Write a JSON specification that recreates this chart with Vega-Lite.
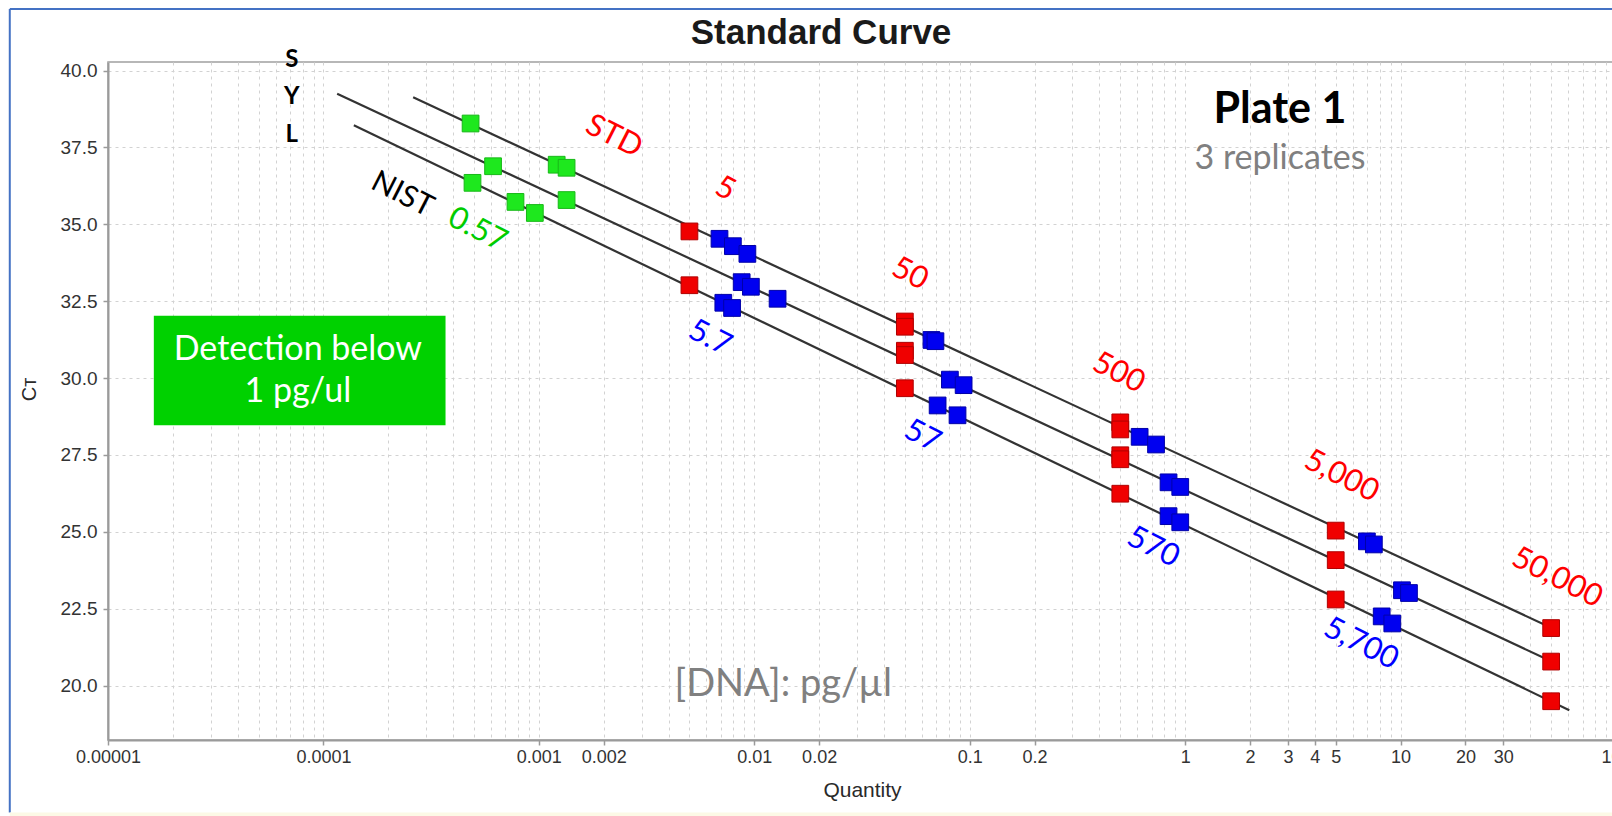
{
  "$schema": "https://vega.github.io/schema/vega-lite/v6.json",
  "width": 1508,
  "height": 678,
  "autosize": "none",
  "padding": {"left": 108, "top": 62, "right": -4, "bottom": 76},
  "background": "white",
  "title": {"text": "Standard Curve", "font": "Liberation Sans", "fontSize": 35, "fontWeight": "bold", "color": "#1a1a1a", "anchor": "middle", "frame": "group", "dx": -41, "offset": -71, "baseline": "alphabetic"},
  "config": {
    "view": {"stroke": "#a0a0a0", "strokeWidth": 1.5},
    "axis": {"labelFont": "Liberation Sans", "labelColor": "#333333", "titleFont": "Liberation Sans", "titleFontWeight": "normal", "titleColor": "#2a2a2a", "domainColor": "#9a9a9a", "domainWidth": 2, "tickColor": "#9a9a9a", "tickWidth": 1.5, "gridColor": "#d2d2d2", "gridDash": [3, 4], "gridWidth": 1}
  },
  "datasets": {
    "lines": [
      {"line": "S", "q": 0.0002609, "ct": 39.13}, {"line": "S", "q": 50, "ct": 21.88},
      {"line": "Y", "q": 0.0001158, "ct": 39.25}, {"line": "Y", "q": 50, "ct": 20.79},
      {"line": "L", "q": 0.0001384, "ct": 38.22}, {"line": "L", "q": 60.7, "ct": 19.2}
    ],
    "points": [
      {"grp": "std", "q": 0.005, "ct": 34.77}, {"grp": "std", "q": 0.005, "ct": 33.02},
      {"grp": "std", "q": 0.05, "ct": 31.84}, {"grp": "std", "q": 0.05, "ct": 31.67}, {"grp": "std", "q": 0.05, "ct": 30.89}, {"grp": "std", "q": 0.05, "ct": 30.75}, {"grp": "std", "q": 0.05, "ct": 29.67},
      {"grp": "std", "q": 0.5, "ct": 28.56}, {"grp": "std", "q": 0.5, "ct": 28.33}, {"grp": "std", "q": 0.5, "ct": 27.49}, {"grp": "std", "q": 0.5, "ct": 27.36}, {"grp": "std", "q": 0.5, "ct": 26.24},
      {"grp": "std", "q": 5, "ct": 25.04}, {"grp": "std", "q": 5, "ct": 24.08}, {"grp": "std", "q": 5, "ct": 22.8},
      {"grp": "std", "q": 50, "ct": 21.87}, {"grp": "std", "q": 50, "ct": 20.78}, {"grp": "std", "q": 50, "ct": 19.49},
      {"grp": "nist", "q": 0.006895, "ct": 34.53}, {"grp": "nist", "q": 0.007955, "ct": 34.29}, {"grp": "nist", "q": 0.00929, "ct": 34.04}, {"grp": "nist", "q": 0.008739, "ct": 33.12}, {"grp": "nist", "q": 0.009643, "ct": 32.97}, {"grp": "nist", "q": 0.01283, "ct": 32.58}, {"grp": "nist", "q": 0.007182, "ct": 32.45}, {"grp": "nist", "q": 0.007887, "ct": 32.28},
      {"grp": "nist", "q": 0.06643, "ct": 31.24}, {"grp": "nist", "q": 0.06934, "ct": 31.2}, {"grp": "nist", "q": 0.08091, "ct": 29.95}, {"grp": "nist", "q": 0.0937, "ct": 29.77}, {"grp": "nist", "q": 0.07096, "ct": 29.11}, {"grp": "nist", "q": 0.08779, "ct": 28.79},
      {"grp": "nist", "q": 0.6149, "ct": 28.09}, {"grp": "nist", "q": 0.7326, "ct": 27.84}, {"grp": "nist", "q": 0.8374, "ct": 26.61}, {"grp": "nist", "q": 0.9491, "ct": 26.46}, {"grp": "nist", "q": 0.8374, "ct": 25.51}, {"grp": "nist", "q": 0.9491, "ct": 25.31},
      {"grp": "nist", "q": 6.976, "ct": 24.69}, {"grp": "nist", "q": 7.516, "ct": 24.59}, {"grp": "nist", "q": 10.15, "ct": 23.1}, {"grp": "nist", "q": 10.94, "ct": 23.01}, {"grp": "nist", "q": 8.172, "ct": 22.25}, {"grp": "nist", "q": 9.153, "ct": 22.02},
      {"grp": "low", "q": 0.000482, "ct": 38.28}, {"grp": "low", "q": 0.000613, "ct": 36.89}, {"grp": "low", "q": 0.000492, "ct": 36.35}, {"grp": "low", "q": 0.000779, "ct": 35.73}, {"grp": "low", "q": 0.000958, "ct": 35.37}, {"grp": "low", "q": 0.00121, "ct": 36.94}, {"grp": "low", "q": 0.001345, "ct": 36.84}, {"grp": "low", "q": 0.001345, "ct": 35.79}
    ],
    "labels": [
      {"text": "S", "q": 7.133e-5, "ct": 40.36, "kind": "syl"},
      {"text": "Y", "q": 7.133e-5, "ct": 39.15, "kind": "syl"},
      {"text": "L", "q": 7.133e-5, "ct": 37.92, "kind": "syl"},
      {"text": "STD", "q": 0.002229, "ct": 37.85, "kind": "std"},
      {"text": "5", "q": 0.007326, "ct": 36.15, "kind": "std"},
      {"text": "50", "q": 0.05278, "ct": 33.38, "kind": "std"},
      {"text": "500", "q": 0.4912, "ct": 30.16, "kind": "std"},
      {"text": "5,000", "q": 5.316, "ct": 26.8, "kind": "std"},
      {"text": "50,000", "q": 53.22, "ct": 23.5, "kind": "std"},
      {"text": "5.7", "q": 0.006221, "ct": 31.29, "kind": "nist"},
      {"text": "57", "q": 0.06026, "ct": 28.1, "kind": "nist"},
      {"text": "570", "q": 0.7101, "ct": 24.49, "kind": "nist"},
      {"text": "5,700", "q": 6.551, "ct": 21.35, "kind": "nist"},
      {"text": "NIST", "q": 0.0002324, "ct": 35.97, "kind": "black"},
      {"text": "0.57", "q": 0.0005181, "ct": 34.82, "kind": "low"},
      {"text": "Plate 1", "q": 2.755, "ct": 38.72, "kind": "plate"},
      {"text": "3 replicates", "q": 2.755, "ct": 37.13, "kind": "rep"},
      {"text": "[DNA]: pg/µl", "q": 0.01362, "ct": 20.03, "kind": "dna"},
      {"text": "Detection below", "q": 7.61e-5, "ct": 30.9, "kind": "box"},
      {"text": "1 pg/ul", "q": 7.61e-5, "ct": 29.55, "kind": "box"}
    ]
  },
  "encoding": {
    "x": {"field": "q", "type": "quantitative",
      "scale": {"type": "log", "domain": [0.00001, 100], "nice": false},
      "axis": {
        "title": "Quantity", "titleFontSize": 21, "titlePadding": 13,
        "labelFontSize": 18, "labelPadding": 3, "tickSize": 5, "labelOverlap": false, "labelBound": false, "labelFlush": false,
        "values": [0.00001, 0.00002, 0.00003, 0.00004, 0.00005, 0.00006, 0.00007, 0.00008, 0.00009, 0.0001, 0.0002, 0.0003, 0.0004, 0.0005, 0.0006, 0.0007, 0.0008, 0.0009, 0.001, 0.002, 0.003, 0.004, 0.005, 0.006, 0.007, 0.008, 0.009, 0.01, 0.02, 0.03, 0.04, 0.05, 0.06, 0.07, 0.08, 0.09, 0.1, 0.2, 0.3, 0.4, 0.5, 0.6, 0.7, 0.8, 0.9, 1, 2, 3, 4, 5, 6, 7, 8, 9, 10, 20, 30, 40, 50, 60, 70, 80, 90, 100],
        "labelExpr": "indexof([0.00001, 0.0001, 0.001, 0.002, 0.01, 0.02, 0.1, 0.2, 1, 2, 3, 4, 5, 10, 20, 30, 100], datum.value) >= 0 ? format(datum.value, '~f') : ''",
        "tickColor": {"condition": {"test": "indexof([0.00001, 0.0001, 0.001, 0.002, 0.01, 0.02, 0.1, 0.2, 1, 2, 3, 4, 5, 10, 20, 30, 100], datum.value) >= 0", "value": "#9a9a9a"}, "value": "transparent"}
      }},
    "y": {"field": "ct", "type": "quantitative",
      "scale": {"domain": [18.23, 40.28], "nice": false, "zero": false},
      "axis": {"title": "Cᴛ", "titleFontSize": 20, "titleAngle": -90, "titleAlign": "center", "titleBaseline": "middle", "titleX": -79, "titleY": 327,
        "values": [20, 22.5, 25, 27.5, 30, 32.5, 35, 37.5, 40], "format": ".1f", "labelFontSize": 19, "labelPadding": 6, "tickSize": 5}}
  },
  "layer": [
    {"data": {"values": [{"q": 0.0000035, "q2": 2000, "ct": 42.0}]},
     "mark": {"type": "rule", "color": "#4472c4", "strokeWidth": 2},
     "encoding": {"x2": {"field": "q2"}}},
    {"data": {"values": [{"q": 0.0000035, "ct": 42.0, "ct2": 15.87}]},
     "mark": {"type": "rule", "color": "#4472c4", "strokeWidth": 2},
     "encoding": {"y2": {"field": "ct2"}}},
    {"data": {"values": [{"q": 0.0000035, "q2": 2000, "ct": 15.87, "ct2": 15.5}]},
     "mark": {"type": "rect", "color": "#fcf9e6"},
     "encoding": {"x2": {"field": "q2"}, "y2": {"field": "ct2"}}},
    {"data": {"values": [{"q": 0.00001632, "q2": 0.0003688, "ct": 32.03, "ct2": 28.47}]},
     "mark": {"type": "rect", "color": "#00d100"},
     "encoding": {"x2": {"field": "q2"}, "y2": {"field": "ct2"}}},
    {"data": {"name": "lines"},
     "mark": {"type": "line", "color": "#333333", "strokeWidth": 2.2},
     "encoding": {"detail": {"field": "line"}}},
    {"data": {"name": "points"},
     "mark": {"type": "point", "shape": "square", "filled": true, "size": 280, "strokeWidth": 1, "opacity": 1},
     "encoding": {
       "fill": {"field": "grp", "type": "nominal", "legend": null, "scale": {"domain": ["std", "nist", "low"], "range": ["#f00000", "#0000f0", "#1ee81e"]}},
       "stroke": {"field": "grp", "type": "nominal", "legend": null, "scale": {"domain": ["std", "nist", "low"], "range": ["#b00000", "#0000a8", "#18b818"]}}
     }},
    {"data": {"name": "labels"}, "transform": [{"filter": "datum.kind == 'syl'"}],
     "mark": {"type": "text", "font": "Lato", "fontWeight": "bold", "fontSize": 24, "color": "#000000", "align": "center", "baseline": "middle"},
     "encoding": {"text": {"field": "text"}}},
    {"data": {"name": "labels"}, "transform": [{"filter": "datum.kind == 'std'"}],
     "mark": {"type": "text", "font": "Lato", "fontSize": 31, "color": "#ff0000", "angle": 27, "align": "center", "baseline": "middle"},
     "encoding": {"text": {"field": "text"}}},
    {"data": {"name": "labels"}, "transform": [{"filter": "datum.kind == 'nist'"}],
     "mark": {"type": "text", "font": "Lato", "fontSize": 31, "color": "#0000ff", "angle": 27, "align": "center", "baseline": "middle"},
     "encoding": {"text": {"field": "text"}}},
    {"data": {"name": "labels"}, "transform": [{"filter": "datum.kind == 'black'"}],
     "mark": {"type": "text", "font": "Lato", "fontSize": 30, "color": "#000000", "angle": 27, "align": "center", "baseline": "middle"},
     "encoding": {"text": {"field": "text"}}},
    {"data": {"name": "labels"}, "transform": [{"filter": "datum.kind == 'low'"}],
     "mark": {"type": "text", "font": "Lato", "fontSize": 31, "color": "#00cc00", "angle": 27, "align": "center", "baseline": "middle"},
     "encoding": {"text": {"field": "text"}}},
    {"data": {"name": "labels"}, "transform": [{"filter": "datum.kind == 'plate'"}],
     "mark": {"type": "text", "font": "Lato", "fontWeight": "bold", "fontSize": 43, "color": "#000000", "align": "center", "baseline": "middle"},
     "encoding": {"text": {"field": "text"}}},
    {"data": {"name": "labels"}, "transform": [{"filter": "datum.kind == 'rep'"}],
     "mark": {"type": "text", "font": "Lato", "fontSize": 34, "color": "#808080", "align": "center", "baseline": "middle"},
     "encoding": {"text": {"field": "text"}}},
    {"data": {"name": "labels"}, "transform": [{"filter": "datum.kind == 'dna'"}],
     "mark": {"type": "text", "font": "Lato", "fontSize": 38, "color": "#808080", "align": "center", "baseline": "middle"},
     "encoding": {"text": {"field": "text"}}},
    {"data": {"name": "labels"}, "transform": [{"filter": "datum.kind == 'box'"}],
     "mark": {"type": "text", "font": "Lato", "fontSize": 34, "color": "#ffffff", "align": "center", "baseline": "middle"},
     "encoding": {"text": {"field": "text"}}}
  ]
}
